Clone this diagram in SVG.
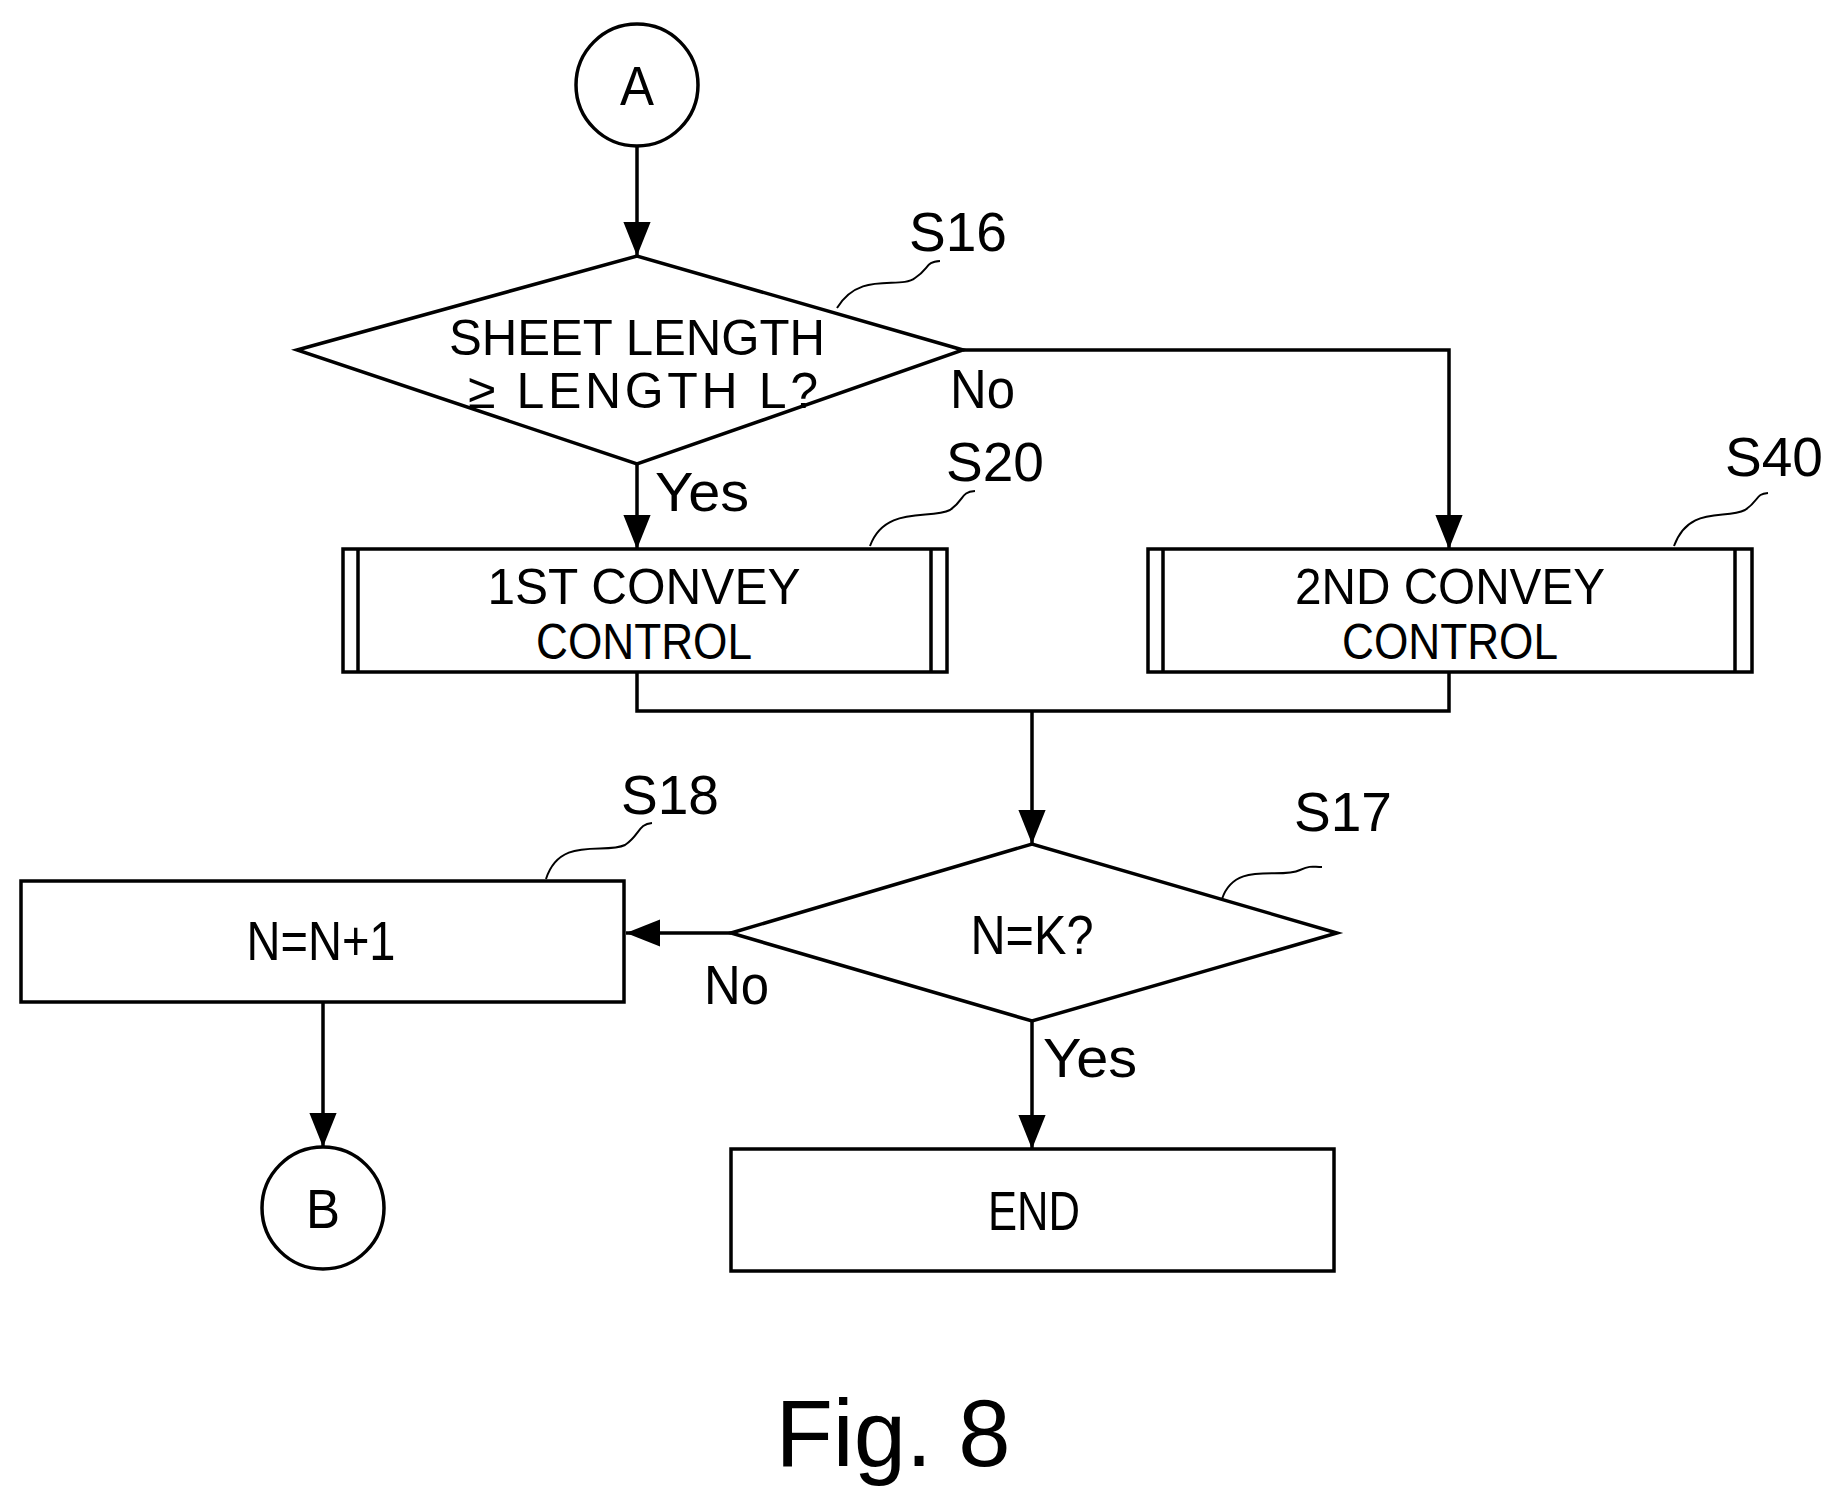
<svg xmlns="http://www.w3.org/2000/svg" width="1835" height="1504" viewBox="0 0 1835 1504">
<style>
.s{fill:none;stroke:#000;stroke-width:3.5}
.w{fill:#fff;stroke:#000;stroke-width:3.5}
.q{fill:none;stroke:#000;stroke-width:2}
text{font-family:"Liberation Sans",Arial,sans-serif;font-size:56px;text-anchor:middle;fill:#000}
.m{font-size:50px}
.l{text-anchor:start}
</style>
<defs><marker id="ah" viewBox="0 0 10 10" refX="10" refY="5" markerWidth="34" markerHeight="34" markerUnits="userSpaceOnUse" orient="auto"><path d="M0,1L10,5L0,9z"/></marker></defs>
<g id="connectors">
<path class="s" d="M637,146V256" marker-end="url(#ah)"/>
<path class="s" d="M963,350H1449V549" marker-end="url(#ah)"/>
<path class="s" d="M637,464V549" marker-end="url(#ah)"/>
<path class="s" d="M637,672V711H1449V672M1032,711V844" marker-end="url(#ah)"/>
<path class="s" d="M731,933H626" marker-end="url(#ah)"/>
<path class="s" d="M323,1002V1147" marker-end="url(#ah)"/>
<path class="s" d="M1032,1021V1149" marker-end="url(#ah)"/>
<text class="l" x="950" y="408" textLength="65" lengthAdjust="spacingAndGlyphs">No</text>
<text class="l" x="655" y="511" textLength="94" lengthAdjust="spacingAndGlyphs">Yes</text>
<text class="l" x="704" y="1004" textLength="65" lengthAdjust="spacingAndGlyphs">No</text>
<text class="l" x="1043" y="1077" textLength="94" lengthAdjust="spacingAndGlyphs">Yes</text>
</g>
<g id="A"><circle class="w" cx="637" cy="85" r="61"/><text x="637" y="105" textLength="34" lengthAdjust="spacingAndGlyphs">A</text></g>
<g id="S16"><path class="w" d="M297,350L637,256L963,350L637,464Z"/>
<text class="m" x="637" y="355" textLength="376" lengthAdjust="spacingAndGlyphs">SHEET LENGTH</text>
<text class="m" x="643" y="408" textLength="350" lengthAdjust="spacing">≥ LENGTH L?</text>
<path class="q" d="M837,308C860,270 900,290 915,278C930,268 925,262 940,261"/>
<text x="958" y="251" textLength="98" lengthAdjust="spacingAndGlyphs">S16</text></g>
<g id="S20"><rect class="w" x="343" y="549" width="604" height="123"/><path class="s" d="M358,549V672M931,549V672"/>
<text class="m" x="644" y="604" textLength="313" lengthAdjust="spacingAndGlyphs">1ST CONVEY</text>
<text class="m" x="644" y="659" textLength="216" lengthAdjust="spacingAndGlyphs">CONTROL</text>
<path class="q" d="M870,546C885,505 930,520 950,510C965,500 960,492 975,491"/>
<text x="995" y="481" textLength="98" lengthAdjust="spacingAndGlyphs">S20</text></g>
<g id="S40"><rect class="w" x="1148" y="549" width="604" height="123"/><path class="s" d="M1163,549V672M1735,549V672"/>
<text class="m" x="1450" y="604" textLength="310" lengthAdjust="spacingAndGlyphs">2ND CONVEY</text>
<text class="m" x="1450" y="659" textLength="216" lengthAdjust="spacingAndGlyphs">CONTROL</text>
<path class="q" d="M1674,546C1689,505 1725,520 1745,510C1760,500 1755,494 1768,493"/>
<text x="1774" y="476" textLength="98" lengthAdjust="spacingAndGlyphs">S40</text></g>
<g id="S17"><path class="w" d="M731,933L1032,844L1337,933L1032,1021Z"/>
<text x="1032" y="954" textLength="123" lengthAdjust="spacingAndGlyphs">N=K?</text>
<path class="q" d="M1222,899C1235,860 1280,880 1300,870C1312,865 1312,867 1322,867"/>
<text x="1343" y="831" textLength="98" lengthAdjust="spacingAndGlyphs">S17</text></g>
<g id="S18"><rect class="w" x="21" y="881" width="603" height="121"/>
<text x="321" y="960" textLength="149" lengthAdjust="spacingAndGlyphs">N=N+1</text>
<path class="q" d="M546,879C560,835 605,855 625,845C640,835 638,824 652,823"/>
<text x="670" y="814" textLength="98" lengthAdjust="spacingAndGlyphs">S18</text></g>
<g id="B"><circle class="w" cx="323" cy="1208" r="61"/><text x="323" y="1228" textLength="34" lengthAdjust="spacingAndGlyphs">B</text></g>
<g id="END"><rect class="w" x="731" y="1149" width="603" height="122"/><text x="1034" y="1230" textLength="92" lengthAdjust="spacingAndGlyphs">END</text></g>
<text x="893" y="1466" style="font-size:94px">Fig. 8</text>
</svg>
